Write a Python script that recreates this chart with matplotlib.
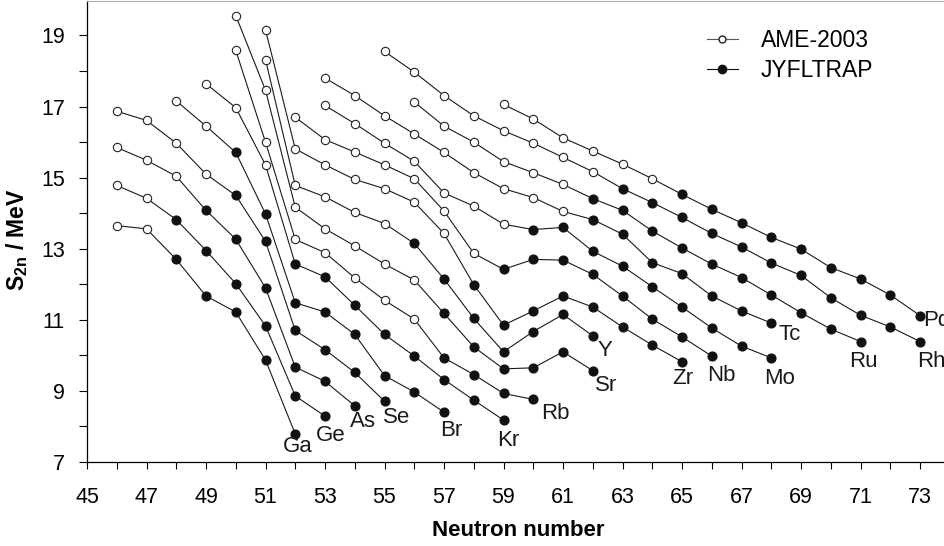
import matplotlib
matplotlib.use("Agg")
import matplotlib.pyplot as plt
from matplotlib.lines import Line2D

# S2n values (MeV) per isotopic chain
elements = ["Ga", "Ge", "As", "Se", "Br", "Kr", "Rb", "Sr", "Y", "Zr",
            "Nb", "Mo", "Tc", "Ru", "Rh", "Pd"]
n_first = [46, 46, 46, 46, 48, 49, 50, 50, 51, 51, 52, 53, 53, 56, 55, 59]
# number of leading AME-2003 points in each chain, the rest are JYFLTRAP
n_ame = [2, 2, 3, 4, 2, 3, 7, 7, 5, 7, 7, 7, 9, 6, 8, 6]

s2n_ga = [13.65, 13.56, 12.70, 11.67, 11.22, 9.87, 7.79]
s2n_ge = [14.78, 14.42, 13.82, 12.95, 12.02, 10.83, 8.86, 8.29]
s2n_as = [15.85, 15.49, 15.04, 14.08, 13.27, 11.90, 9.67, 9.27, 8.58]
s2n_se = [16.87, 16.61, 15.97, 15.10, 14.50, 13.21, 10.70, 10.16, 9.52, 8.71]
s2n_br = [17.16, 16.45, 15.71, 13.98, 11.48, 11.22, 10.59, 9.43, 8.97, 8.40]
s2n_kr = [17.64, 16.97, 15.36, 12.57, 12.21, 11.41, 10.59, 9.98, 9.32, 8.74, 8.18]
s2n_rb = [18.58, 16.00, 13.26, 12.89, 12.18, 11.55, 11.02, 9.93, 9.46, 8.93, 8.76]
s2n_sr = [19.56, 17.46, 14.17, 13.56, 13.08, 12.57, 12.12, 11.18, 10.24, 9.62,
          9.65, 10.10, 9.57]
s2n_y = [18.32, 14.78, 14.46, 14.02, 13.71, 13.15, 12.15, 11.04, 10.10, 10.67,
         11.15, 10.55]
s2n_zr = [19.16, 15.81, 15.36, 14.95, 14.69, 14.31, 13.43, 11.99, 10.85, 11.25,
          11.67, 11.36, 10.80, 10.29, 9.82]
s2n_nb = [16.70, 16.07, 15.72, 15.36, 14.97, 14.06, 12.87, 12.42, 12.70, 12.68,
          12.28, 11.67, 11.02, 10.52, 9.98]
s2n_mo = [17.03, 16.52, 15.97, 15.46, 14.57, 14.20, 13.69, 13.54, 13.60, 12.93,
          12.51, 11.93, 11.36, 10.77, 10.26, 9.93]
s2n_tc = [17.80, 17.31, 16.74, 16.23, 15.71, 15.14, 14.69, 14.44, 14.05, 13.82,
          13.41, 12.61, 12.30, 11.67, 11.25, 10.91]
s2n_ru = [17.13, 16.45, 16.00, 15.45, 15.14, 14.81, 14.41, 14.08, 13.50, 13.02,
          12.57, 12.19, 11.70, 11.20, 10.74, 10.39]
s2n_rh = [18.55, 17.97, 17.31, 16.74, 16.32, 15.97, 15.57, 15.17, 14.69, 14.30,
          13.88, 13.43, 13.05, 12.60, 12.25, 11.62, 11.13, 10.80, 10.39]
s2n_pd = [17.06, 16.65, 16.12, 15.75, 15.38, 14.97, 14.53, 14.11, 13.73, 13.32,
          12.99, 12.47, 12.15, 11.70, 11.12]

chains = [s2n_ga, s2n_ge, s2n_as, s2n_se, s2n_br, s2n_kr, s2n_rb, s2n_sr,
          s2n_y, s2n_zr, s2n_nb, s2n_mo, s2n_tc, s2n_ru, s2n_rh, s2n_pd]

# label offsets (points) from the last point of each chain
label_dx = [1.8, 4.3, 5.8, 8.6, 5.0, 3.6, 15.8, 9.4, 8.6, 0.7, 7.2, 5.8, 13.0, 2.2, 7.9, 2.2]
label_dy = [-9.4, -13.7, -11.5, -11.5, -13.0, -14.4, -10.0, -10.8, -10.8, -12.2,
            -13.7, -15.1, -8.6, -14.4, -14.4, -3.2]

plt.rcParams["font.family"] = ["Liberation Sans", "DejaVu Sans"]
plt.rcParams["mathtext.fontset"] = "custom"
plt.rcParams["mathtext.rm"] = "Liberation Sans"
plt.rcParams["mathtext.bf"] = "Liberation Sans:bold"

fig = plt.figure(figsize=(9.45, 5.46), dpi=100)
ax = fig.add_axes([87 / 945, 1 - 462 / 546, 858 / 945, 461 / 546])

for el, s, n0, k, dx, dy in zip(elements, chains, n_first, n_ame, label_dx, label_dy):
    n = list(range(n0, n0 + len(s)))
    ax.plot(n, s, "-", color="#1a1a1a", lw=0.8, zorder=2)
    ax.plot(n[:k], s[:k], "o", ms=6, mfc="white", mec="#222222", mew=0.8, zorder=3)
    ax.plot(n[k:], s[k:], "o", ms=6.5, mfc="#111111", mec="#111111", mew=0.8, zorder=3)
    ha = "left" if el == "Pd" else "center"
    ax.annotate(el, (n[-1], s[-1]), xytext=(dx, dy), textcoords="offset points",
                ha=ha, va="center", fontsize=16, color="#1a1a1a")

ax.set_xlim(45, 73.84)
ax.set_ylim(7, 19.97)
ax.set_xticks(range(45, 74, 2))
ax.set_xticks(range(46, 74, 2), minor=True)
ax.set_yticks(range(7, 20, 2))
ax.set_yticks(range(8, 20, 2), minor=True)
ax.tick_params(axis="x", which="both", direction="out", length=5, width=0.8,
               pad=13, labelsize=15.5)
ax.tick_params(axis="y", which="both", direction="out", length=6, width=0.8,
               pad=10, labelsize=15.5)

ax.spines["right"].set_visible(False)
ax.spines["top"].set_color("#b0b0b0")
ax.spines["left"].set_linewidth(0.9)
ax.spines["bottom"].set_linewidth(0.9)

fig.text(17 / 945, 1 - 240 / 546, r"$\mathbf{S_{2n}}$ / MeV", rotation=90,
         fontsize=16.5, fontweight="bold", ha="center", va="center")
fig.text(518 / 945, 1 - 531 / 546, "Neutron number", fontsize=16,
         fontweight="bold", ha="center", va="center")

handles = [
    Line2D([], [], color="#555555", lw=0.8, marker="o", ms=5, mfc="white", mec="#222222"),
    Line2D([], [], color="#111111", lw=0.8, marker="o", ms=6, mfc="#111111", mec="#111111"),
]
ax.legend(handles, ["AME-2003", "JYFLTRAP"], loc="upper left",
          bbox_to_anchor=(707 / 945, 1 - 29 / 546), bbox_transform=fig.transFigure,
          frameon=False, fontsize=16.5, handlelength=1.35, handletextpad=1.0,
          labelspacing=0.3, borderpad=0, borderaxespad=0)

fig.savefig("out.png", dpi=100)
